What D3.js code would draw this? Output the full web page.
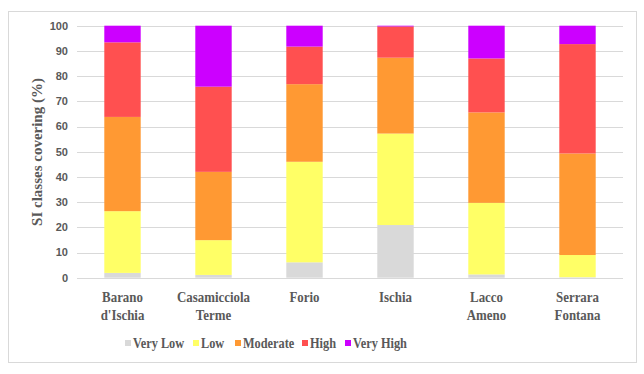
<!DOCTYPE html>
<html lang="en">
  <head>
    <meta charset="UTF-8" />
    <title>SI classes covering</title>
    <script src="https://d3js.org/d3.v7.min.js"></script>
    <style>
      body { margin: 0; background: #ffffff; }
      svg { display: block; }
      .serif { font-family: "Liberation Serif", "Times New Roman", serif; font-weight: bold; fill: #595959; }
      .sans { font-family: "Liberation Sans", Arial, sans-serif; font-weight: bold; fill: #595959; }
    </style>
  </head>
  <body>
    <svg id="chart" width="644" height="374"></svg>
    <script>
      const municipalities = [["Barano", "d'Ischia"], ["Casamicciola", "Terme"], ["Forio"], ["Ischia"], ["Lacco", "Ameno"], ["Serrara", "Fontana"]];
      const classes = ["Very Low", "Low", "Moderate", "High", "Very High"];
      const veryLow = [1.9, 1.1, 6.1, 20.9, 1.3, 0.2];
      const low = [24.5, 13.8, 39.9, 36.3, 28.4, 8.8];
      const moderate = [37.4, 27.1, 30.8, 30.1, 35.9, 40.3];
      const high = [29.6, 33.8, 14.9, 12.4, 21.4, 43.4];
      const veryHigh = [6.6, 24.2, 8.3, 0.3, 13.0, 7.3];
      const yTicks = [0, 10, 20, 30, 40, 50, 60, 70, 80, 90, 100];
      const colors = ["#D9D9D9", "#FFFF66", "#FF9933", "#FF5050", "#CC00FF"];

      const series = [veryLow, low, moderate, high, veryHigh];
      const rows = municipalities.map((m, i) => {
        const r = { name: m.join(" ") };
        classes.forEach((c, k) => (r[c] = series[k][i]));
        return r;
      });

      const svg = d3.select("#chart");
      svg.append("rect").attr("x", 8.5).attr("y", 11.5).attr("width", 628).attr("height", 351)
        .attr("fill", "#fff").attr("stroke", "#D9D9D9");

      const x = d3.scaleBand().domain(rows.map((d) => d.name)).range([77, 623]).paddingInner(0.6).paddingOuter(0.3);
      const y = d3.scaleLinear().domain([0, 100]).range([277.7, 25.7]);

      svg.append("g").selectAll("line").data(yTicks).join("line")
        .attr("x1", 77).attr("x2", 623)
        .attr("y1", (d) => Math.round(y(d)) + 0.5).attr("y2", (d) => Math.round(y(d)) + 0.5)
        .attr("stroke", "#D9D9D9").attr("stroke-width", 1);

      svg.append("g").selectAll("text").data(yTicks).join("text")
        .attr("class", "sans")
        .attr("x", 68).attr("y", (d) => y(d)).attr("dy", "0.35em")
        .attr("text-anchor", "end")
        .style("font-size", "11px")
        .text((d) => d);

      svg.append("text")
        .attr("class", "serif")
        .attr("transform", "translate(42,152) rotate(-90)")
        .attr("text-anchor", "middle")
        .style("font-size", "15px")
        .text("SI classes covering (%)");

      const stacked = d3.stack().keys(classes)(rows);
      svg.append("g").selectAll("g").data(stacked).join("g")
        .attr("fill", (d, i) => colors[i])
        .selectAll("rect").data((d) => d).join("rect")
        .attr("x", (d) => x(d.data.name))
        .attr("width", x.bandwidth())
        .attr("y", (d) => y(d[1]))
        .attr("height", (d) => y(d[0]) - y(d[1]));

      const xl = svg.append("g").selectAll("g").data(municipalities).join("g")
        .attr("transform", (d) => `translate(${x(d.join(" ")) + x.bandwidth() / 2},302) scale(0.86,1)`)
        .append("text")
        .attr("class", "serif")
        .attr("text-anchor", "middle")
        .style("font-size", "15px");
      xl.selectAll("tspan").data((d) => d).join("tspan")
        .attr("x", 0)
        .attr("dy", (d, i) => (i === 0 ? 0 : 18.5))
        .text((d) => d);

      const legendX = [125, 193, 235, 302, 345];
      const lg = svg.append("g").selectAll("g").data(classes).join("g")
        .attr("transform", (d, i) => `translate(${legendX[i]},343)`);
      lg.append("rect").attr("x", 0).attr("y", -3).attr("width", 6).attr("height", 6)
        .attr("fill", (d, i) => colors[i]);
      lg.append("text").attr("class", "serif")
        .attr("transform", "translate(8,0) scale(0.88,1)")
        .attr("dy", "0.35em")
        .style("font-size", "14px")
        .text((d) => d);
    </script>
  </body>
</html>
